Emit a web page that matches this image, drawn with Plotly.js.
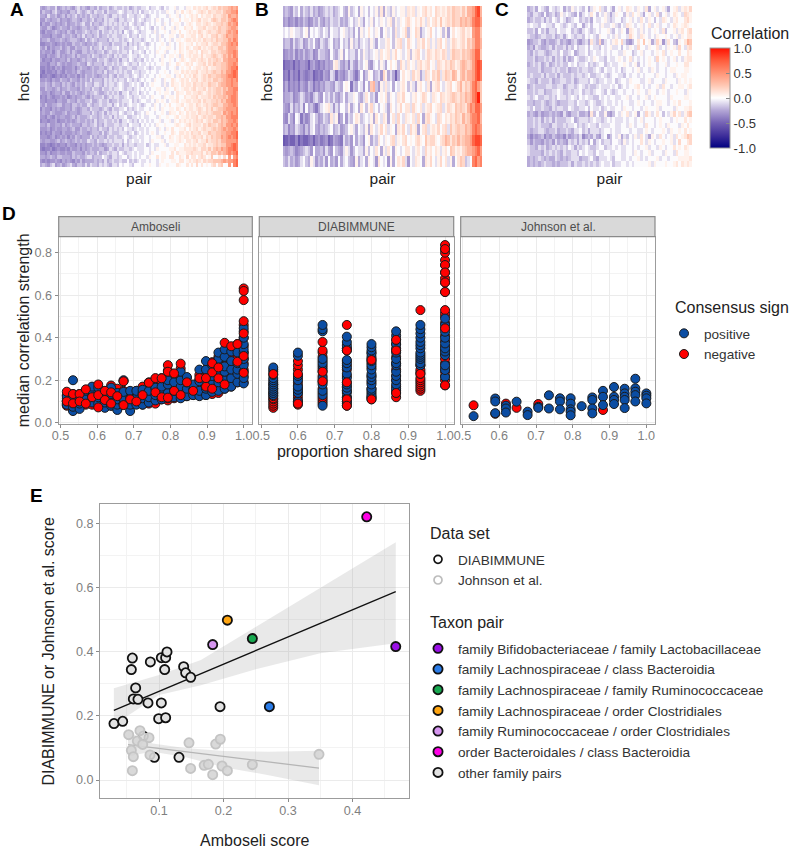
<!DOCTYPE html>
<html><head><meta charset="utf-8">
<script src="https://cdn.plot.ly/plotly-3.0.1.min.js"></script>
<style>html,body{margin:0;padding:0;background:#fff}</style></head>
<body><div id="chart" style="width:789px;height:849px"></div>
<script>
// Correlation levels, one letter per cell; heatLevels gives the value of each letter
const heatKey = "abcdefghijklmnopqrstu";
const heatLevels = [-1,-.8,-.55,-.5,-.42,-.36,-.3,-.24,-.17,-.09,-.01,.06,.12,.18,.25,.34,.45,.57,.7,.82,.95];
const heatA = [
"hghihhjghi hihgijhihg iihjhiijhi jiijijhiji ijjkijjkji kjkkljkkjl lkmlmlmnlm nmonoopqpq",
"gihhgijhgh hgiihjihij ihjiijhjii ijkjijjiji kijjkjkjkj jlkkjlkmkl mlklmnmlnm mnnmoppqqr",
"hhgjhhighi gihijhihih jiihiijihj jijiikjjij jkjijkkjkk kjlkkljklk lmlmkmlmml nmmnonqppq",
"ggihghhigh hghiihgiih ijhiihjijj ihjjijjkij kjijjkjlkj kkjlkkmkll kmlmnlmmln onmoonpqrq",
"fhggihghgh ighhihijhh jhiihijiji jijijikjij jijkjkjkkj lkjkllkjkl mlkmmlmnml mnnonoqpqr",
"hggihfghih hgihhghiih iihijjihij iijjiijkji jkjkjikjkl jkkljlkkml lmklmmnlmm nmonnopqqp",
"gfhgghihgh gihgihhiji hiijhjiiji jijhkjijkj ijjkkjljkk lkjllkmkkl mlmlnmlmnm mnonnpqpqr",
"hgggfhhggi hhihgihjhi ihijhiijij jiijjkijji kjjkjkkjlj kkllkjlmkl lmmkmnlmln nomnoqppqq",
"ghhigghhih ghiiihghjh ijihiiihji jjijijkijj jijkkjkjlk jkljkllklm mlmlmlnmmn monnooqprq",
"ffgghgfghg hggihhihgh hihijiiihj iiijjhjiji jkjijkjkkl kjlkjkmlkl lmkmlmmnlm nnmoopqrqr",
"hgifhghhig higgihhiih jhiijhjiij jkijiijjki jjkjkkjklk kllkjkmlkm lkmmnlmlmn mmoonpqqqp",
"ghgghfhigg higihggiih iihiijhiji ijijjikijj kjikjkjlkk ljkklkmlkl mmlmknmmln nmnoopqqrq",
"ggfhgghigh ghhigihhhi hjiihiijih jijiijkjji jkjjkkjkkl jkllkljmkl mlmmlnlmmn onmnpoqprq",
"hfggfhgghh gighhghihi ihhjiijihi ijhjjikjij jikjkjkkjl kklkjklmlk lmmlmnmlnm nonmppqqqr",
"gggfhhgihg hgghhihhgj ihiiihjiij ijijkjijji kjjkjkjkkl kjlkkmlklm lmklmmnlnm onnoopqqrq",
"ffgfgfhghf ggghfhihhg hihhiihijh iijiijjiij jjkjijkjjk kjkkljklkl mklmmlmnlm mnnoopqrrs",
"fegffgfhgf hgghgihghh hihiihjhii jijijiikjj ijjkjkkjkk lkjkllkmlm lmmnlmmnmn onnpoqqrsr",
"effgfefgfg fhgghfhgih hihghiihji hjiijjijkj ijkjkkjklk kllkjlmkml mlnmlmnmon nooppqrrsr",
"gghgfhggih hgihhgihih jhiiihjiji jijjikjiji jkjkkjlkkj lkkmlklmlm kmmnlmnmnm oonopqqrqr",
"hhihgihhgi hihgihihji ihjjihjijj ijkjiijkjk jikjklkkkj ljkmllkmlm mlnmmnmmon nmoppqqrqq",
"ggihhghigh hihhhgihii hjiihjiiji jjkjijjijk jkjkjkkllk jlkkmlklmm lmnlmmnlnm noonpoqqrr",
"hgghfghhgi ggihihghih iijihhijij ijhjjkijjk ijkjkkjklk llkjkmllkm mlmmnmlmnm noonpqqqrq",
"fgfhgfgghg hfghghhihg ihiiijhiji jjiijkjijj kjjkjlkkkj lkllkmkkml lmmnlmmmnm onoopoqrrq",
"ggfgggfhhg gihhgihhii jhhijiijhi ijijjjkiji jkkjjkjlkl kjkllmkllm mlmmnlnmmn nonpoqqrrq",
"hgigghhiig hhgiihihhj ihiijiijjh jkijijkjjk jijkkjlkjk lkmkkllmkl mmlnmlmnmn oonnppqqrq",
"fhggfhghgg hhgihghiih jiiihijihj iijjkijijk jjkkjklkjl kkllkmlkml mmlmnmlnmo mnoopqqqqr",
"ghggihgggh ighhhghiii hjihijhjij jikjijjkij jkjlkkjkkl kjmllkmlkm lmmlnmmnmn ooonqpqrqr",
"ggfhgfhghh gghigihhhi jiihijiijh jijjkiijjk jkjjkkkjlk klkklmkllm lmmnlmnmnn moopoqqrrr",
"fggfgghfgg hghghihhih ihjhiijiij ijhjjkjiji kjkjkjkklj kkljlkmlml mlmnmnlmnm oonpopqqrq",
"hhgigghhgi ghihhhgiih iijhihjiii jjijjikjjj ikjkjkjlkk lkkklmlklm nlmmmlnmon nmopoqqrqr",
"ggghfghggh hghiggihhi hiihjiihji jijikjjijk jjkjkkkjlk jlkmkkllmk mlmnlmnmmn onopqpqqrq",
"fgfgfhggfh ggghghihhg hiiihjhiji iijjjijkij kjkjklkjkk lkkmlkmmlm lnmmnlmmon nooppqqrrs",
"gggfghfghg hfhgihghhh jhihiihjii jiijkjijjk jjkkjkkllj kkmlklmlmm lmnmmnlnmo nooqpqrqrs",
"hghhgghigh ihghihihhj iihjiijiji jjjikijkjj kjkkjlkkkl jkllklmlkm mlmnlmmomn nonppqqqqr",
"ffgfefgfgg fhggfhghgh hihihghiij iijhjijjij jjkijkjjkk ljkkllkkml mlmlmmnlmm nonooqqrsr",
"feffgefgff gfhgghfhgh ihhhiighji hjiijjijkj jjkkjkjlkk kkllmkllmm mmnmlnnmom opoqpqrrsr",
"ggfhfgghgg hggihhhgih iihjhiijij jikjijjkjk jjkkjlkkkl lkkmkmlllm mnmmmnlnmo onpopqrqrs",
"hhghihgiih hhgihihhij jhiiikjihj jijkkijkjk jkkjlkkmkl lkmmkkmlkn kmmkmnmklo kkmknkqkqr",
"gfgfgghgfh ghgfhgighh hhihihjhij iijiikijij kjjkjkkjkl kkkllkmmkl mlmnmlnmnn ooopqpqqrs",
"hihgijghig hijhgiihjh jiihjijihj jikjkkjikk kjkklkkjlk klkkkmlkkm kmknkmklkm nknokkqkrs"
];
const heatB = [
"hihgjikhji hjhighijij hijkihlijk hljkikjlim hljiljkllj mlmjlkmnlm knmlmlnmon nmomppqstp",
"ghfghfhgih fgihjhgihj iijhihjkij ljhkjlikjl kjlmiljlkm nlkmlnljmk mnlolmnmon npopoprssq",
"jkjlkjjikl hkjkjikjhk jjikljijhk hljkmkjlkh kljkimjkln ilknmhjkln kjklilhkmk lmnlmlqrro",
"hiigjhijgh jikhgjihjk hihkijhlij hjkjiljhkj jlmkilmnjk nlkjmlnkmj ljmnkmjlnm lmnlonprrp",
"fghgifhgig hifgjiihgk ihjlhkijjh kiljijkljm klmjlnkljk milmnkjlnm lnmlnmjmon nmonopqsso",
"deefdfeggf dghfegfhgh lmjhgifjhg jiklhgjkil jhkmklinlj mkljmnlmnk ljnmlnmonl moponoqsts",
"efdgefdgfe fgdefehgfj iehgfhjige hkgilkhijg nlhjhdhkmk ljnlmhjnmk nmojmonmpo lopnppqstr",
"fhegfgehgf ihegfhgiih gjihklkeih kjgkhopigl jmjkhkjlmk iljhlmkjmh lmnkjlmnkl npmonprsqo",
"ghhifghjig hfijhgkijh jhgikhjjlk ihjmkijgkl kmilkjmlnk kjlmklnmkj mlknmlmnon monpoprsuo",
"hgfjgihjfk higehjklmj gjhkkilhjk hmkilnjkik ljhmkjlnkm mjnlkmjlmn klmnjlnmlo nonmprqssq",
"gfjhfkjehf gjkighjihm jlfhkgjikm lijkjlhmkj mlhkmjnkjm lkmjnkhmnl kjnmkmlnmo nmpnoqrrsp",
"hifhgjihfi gjkhgihijk hijghikljh kjilhmkjln kmjlkhmlnk jnlmhkmnjl mlnkmnjomn onnpoprsrq",
"cdeddfcedd efdfgefgde hgfejhigkh jigklhjimk jlkmnjlkmn klkmnlkomn nlkmnpomon pnoppqstts",
"hghihfghij igkhhigjhg kihgjljgik jjhlikjmkh ljmkhlkjkm mkjlmkjnlm kmljlmkonl mlnoppqrsq",
"ihjhighjki hljgihjgkh igkhjkihgl hjkhlkjgmk jkglhkmlnj gkjmlkhmln kjlnkmjlhk monijkrsqr"
];
const heatC = [
"hijhkjihkj ijkhjiljkj ikhjlkmjik jhkljkmlkj lkjmhkljkl jhklmjlmln",
"ihjjihkhij hiljkjihkh jkjmkikjlj hjlkkiljmk ljhkljkmik ljkmlkjnml",
"hijiijhjik jikjhijkki jijhkjjklj ijkkijkljk jmkjlkikjm lkjlmkkmnl",
"jkjjikkjji kkjijkjikk hjkikkjljj kljikjmlkj kljkmjkljk kjkmlklmlk",
"iijhkijhjj ikjjkkijih jkjijkjkkl jikjlkhmlk jljkjklkjm ikkljlmkmn",
"jiihijjiij hijhjkjijj ikjkjilkkj kjljkkjnlk jmlkjkjlkk lkjkljlkmm",
"ghiijhgihh ijhihgijhg ijhmjinhjk jlmknjhgik mkoklhjnlg jmkihlkmpo",
"higjihhijh jiijhjikij jkikjjikjk ljjkikjlkj nkkjlkkmjk jlkljnkjmn",
"ihjijjihij jikiijkhij jkijkjjkjk jkkjjlkkij kljkkjklkm jklkkmkkml",
"iijhiijijh jijhjhikji ijkjlkjjik jjklkjkmjk jkjklkjnkl kjkljkjlmm",
"hijijhijhi jijiikjkij jkijijkkij kjjkklkjkl ikjklkkjkk ljkklkkmmk",
"iiiijhiiij ijiijhiiji jjiijkjikj jkjkijkkjk ljkkjlkjkk jkllkkkllk",
"ijiiijhjii jhjiiijijj ijkiijjkji jkkjjikjkk jkjkkkjlkk jkkjlkllkk",
"jiihjiiijh iijjiijhij jjikjijjkj jkijkkjlkk kjjkljkkkj lkkkjlklkl",
"hijiiiijji ijjhijjijk jijiijkjjj kjkijkjkkl mkjkjkkljm kkjkkllklm",
"iijijjhiij jkjiijijjk ijjijkkjik jijkkjkkjk lkkjlkkjkl kjkklkkjlk",
"jijkiijjij ikjjijkjik jkjjiikjkj kkjjkkljkk jkkljklkkk kjlkkkkllk",
"iihiijihij ihiiijjikj jijkjiijkj jkjkjkkjjk lkjkkjkllk kjklkmkkkl",
"jikiijiihj ijjiikjiij jkikjjkijk jjkkjlkkjk kjklkkkljk kkkjlkkllm",
"hihgighhih ihgjhgiijh higmikiilh gikjlkmjkl hkjnljkmki kjlnkmjlno",
"iijijhjijh jiiijjkhij jjijkjjijk jkjjjkjkkj kljkkkjklk kkjklkkmkl",
"iijijiiihj jiijijjkij ijkjjikjjj kkjjkkjlkj kkjmkkjklk jlkkkjlkmk",
"ihiijjihii jhiijihjjk ijhjjjijkk jkjjkkkjkk jjklkjkkkl kjlkklkmkl",
"hfhghifhgi hghfighihj fhihjhgjkg ikjlhjikjl jmkjhlkjmk jkljmklmon",
"igihhgihig jhihgjijhj ijhkhjkijj ikkjiljkjk kmkjlkjkkl kkljknkkmn",
"jiihjijhij ijijikjhji jkjiijkkij jkjkjjkkjk jkkljkkjlk jkkmklkmlk",
"jiiiihjiji jihjiijjik jkjjikjjkk jjkkjjkkjl kjkkljkkkj lkkjmkkllk",
"hihijihihh jihihijjjh iijkihjjjk jikkjjkjkk ljkjkkkljk kjkkkllllm",
"hihihijiih ihiiijhjii jijijijkjj kijjkkjkjk kkkkljlkkk lkklmkmlml"
];
// Panel D: column x positions (share of taxa pairs with the same sign) and y per column
const ambX = [0.517,0.534,0.552,0.569,0.586,0.603,0.621,0.638,0.655,0.672,0.690,0.707,0.724,0.741,0.759,0.776,0.793,0.810,0.828,0.845,0.862,0.879,0.897,0.914,0.931,0.948,0.966,0.983,1.0];
const ambNegBack = [[.08,.09,.10,.115,.13],[.07,.085,.1,.12,.135],[.075,.09,.105,.12,.135],[.085,.1,.115,.13,.15],[.085,.1,.12,.14,.165],[.08,.095,.115,.135,.17],[.075,.09,.11,.13,.15],[.08,.1,.12,.14,.175],[.07,.09,.11,.13,.16],[.085,.1,.12,.15,.195],[.075,.09,.11,.13],[.09,.11,.13,.15],[.085,.105,.125,.15,.17],[.09,.11,.135,.16,.19],[.09,.115,.14,.17,.205],[.11,.13,.16,.19,.21],[.105,.13,.16,.2,.245],[.115,.14,.17,.2,.225],[.12,.145,.18,.215,.255],[.125,.15,.175,.21],[.13,.15,.17],[.13,.16,.2,.225],[.13,.16,.19,.22,.25],[.135,.17,.21,.25,.285],[.14,.17,.2,.24,.28,.31],[.16,.19,.23,.27,.31],[.17,.2,.24,.28,.32],[.19,.22,.26,.3,.35,.37],[.19,.22,.25,.28,.3,.33,.36,.4,.46]];
const ambPos = [[.085,.105,.125],[.055,.075,.1,.125,.2],[.065,.09,.115],[.1,.125,.15],[.095,.125,.15,.17],[.09,.12,.14,.165],[.07,.095,.12],[.08,.11,.135,.165],[.06,.085,.11,.14],[.09,.115,.145,.2],[.055,.085,.115,.15],[.085,.115,.15],[.085,.115,.14,.155],[.095,.12,.15],[.105,.13,.16,.165],[.11,.135,.17],[.115,.14,.18,.2],[.12,.15,.19],[.115,.145,.17,.2,.24],[.125,.16,.19,.215],[.13,.155,.18],[.125,.15,.195,.25],[.13,.16,.2,.25,.29],[.145,.18,.22,.27],[.15,.19,.23,.27,.3,.33],[.16,.2,.24,.265,.31,.345],[.17,.21,.25,.29,.335],[.19,.23,.25,.28,.33],[.185,.21,.24,.27,.3,.33,.345,.37,.4,.43,.445]];
const ambNegFront = [[.146,.1],[.091,.135],[.135,.1],[.157,.09],[.12],[.18,.072,.13],[.107,.15],[.143,.09],[.125],[.083,.195],[.11],[.1],[.13],[.188],[.21,.143],[.209,.12],[.271,.118,.24],[.232,.15],[.278,.13],[.19],[.15],[.21],[.17,.21],[.237,.16,.28],[.209,.26],[.376,.18],[.36],[.287,.37],[.632,.62,.577,.478,.42,.314,.235]];
const diaX = [0.533,0.6,0.667,0.733,0.8,0.867,0.933,1.0];
const diaNegBack = [[.07,.08,.09,.10,.11,.115,.125,.14,.16,.18],[.085,.095,.1,.115,.13,.145,.16,.175,.19,.21,.225,.25,.27,.29],[.09,.1,.11,.12,.14,.16,.19,.2,.22,.24,.26,.29,.31,.33,.34],[.08,.09,.1,.12,.15,.17,.19,.22,.25,.27,.29,.34,.35],[.11,.12,.14,.16,.19,.22,.26,.28,.30,.33],[.12,.14,.17,.2,.22,.25,.28,.31,.34,.37],[.15,.16,.17,.18,.19,.2,.21,.23,.24,.25,.27,.29],[.176,.2,.22,.24,.26,.28,.3,.32,.34,.36,.385,.41,.444,.47,.5,.515,.53,.615,.66,.679,.707,.742,.765,.8,.817,.836]];
const diaPos = [[.13,.14,.15,.16,.17,.18,.19,.2,.21,.225,.24,.25,.26],[.1,.14,.155,.17,.2,.22,.315,.33],[.08,.13,.15,.18,.21,.25,.27,.28,.30,.43,.44,.46],[.1,.12,.14,.15,.165,.18,.21,.23,.26,.28,.295,.35,.365,.38,.405],[.12,.13,.15,.16,.18,.2,.215,.23,.25,.27,.29,.31,.325,.34,.355,.37],[.15,.16,.18,.2,.22,.24,.27,.28,.3,.33,.35,.37,.39,.41,.43],[.27,.28,.3,.31,.32,.33,.35,.365,.38,.4,.42,.44,.46],[.216,.248,.27,.318,.335,.35,.373,.4,.428,.46,.49]];
const diaNegFront = [[.229],[.09,.23],[.38,.24,.195],[.46,.34,.19,.11,.08],[.11,.295],[.39,.34,.14],[.53,.23],[.817,.742,.707,.66,.615,.444,.176]];
const johPosX = [0.53,0.589,0.589,0.589,0.618,0.618,0.618,0.647,0.677,0.677,0.706,0.706,0.735,0.735,0.765,0.765,0.765,0.794,0.794,0.794,0.794,0.794,0.824,0.853,0.853,0.853,0.853,0.882,0.882,0.882,0.912,0.912,0.912,0.912,0.941,0.941,0.941,0.941,0.941,0.97,0.97,0.97,0.97,0.97,1.0,1.0,1.0,1.0];
const johPosY = [0.031,0.114,0.10,0.045,0.08,0.067,0.048,0.099,0.052,0.036,0.075,0.07,0.129,0.067,0.115,0.10,0.063,0.115,0.09,0.063,0.052,0.035,0.078,0.119,0.107,0.067,0.044,0.15,0.122,0.083,0.168,0.122,0.107,0.088,0.16,0.138,0.122,0.107,0.069,0.207,0.162,0.146,0.13,0.10,0.138,0.127,0.115,0.091];
const johNegX = [0.53,0.589,0.618,0.647,0.706,0.882];
const johNegY = [0.082,0.042,0.09,0.07,0.088,0.06];
// Panel E
const diaScoreX = [0.0302,0.0437,0.0587,0.0571,0.0866,0.1036,0.1103,0.1124,0.1088,0.1382,0.1413,0.1491,0.0638,0.0602,0.0674,0.0829,0.1036,0.0995,0.1103,0.1946,0.0928,0.131,0.0757];
const diaScoreY = [0.176,0.183,0.380,0.344,0.368,0.381,0.381,0.399,0.344,0.353,0.334,0.320,0.287,0.2525,0.2515,0.240,0.240,0.191,0.194,0.2286,0.0707,0.0707,0.137];
const johScoreX = [0.053,0.0705,0.0664,0.0845,0.0747,0.0571,0.0602,0.0587,0.086,0.1465,0.1879,0.195,0.149,0.170,0.1765,0.1832,0.1977,0.206,0.2447,0.348];
const johScoreY = [0.1413,0.1538,0.1216,0.132,0.111,0.0925,0.0727,0.029,0.078,0.116,0.112,0.127,0.036,0.0457,0.0488,0.0166,0.0436,0.029,0.0478,0.08];
const taxonNames = ["family Bifidobacteriaceae / family Lactobacillaceae","family Lachnospiraceae / class Bacteroidia","family Lachnospiraceae / family Ruminococcaceae","family Lachnospiraceae / order Clostridiales","family Ruminococcaceae / order Clostridiales","order Bacteroidales / class Bacteroidia"];
const taxonX = [0.467,0.2711,0.2447,0.206,0.1832,0.422];
const taxonY = [0.4156,0.2286,0.4406,0.498,0.4219,0.82];
const taxonColors = ["#9a10e6","#2a7ce8","#18a850","#ffa510","#d595ef","#ff00e6"];
const fitDiaX = [0.03,0.467];
const fitDiaY = [0.217,0.587];
const ciDiaX = [0.03,0.10,0.165,0.25,0.35,0.467];
const ciDiaHigh = [0.286,0.327,0.374,0.478,0.60,0.741];
const ciDiaLow = [0.171,0.265,0.295,0.345,0.395,0.426];
const fitJohX = [0.052,0.348];
const fitJohY = [0.11,0.037];
const ciJohX = [0.052,0.09,0.14,0.2,0.27,0.348];
const ciJohHigh = [0.15,0.114,0.10,0.09,0.088,0.091];
const ciJohLow = [0.075,0.088,0.072,0.04,0.015,-0.016];
const cbTicks = [-1,-0.5,0,0.5,1];
const cbLabels = ["-1.0","-0.5","0.0","0.5","1.0"];

// ---- helpers
const W=789,H=849;
const px=x=>x/W, py=y=>1-y/H;
const dx=(a,b)=>[px(a),px(b)], dy=(a,b)=>[py(b),py(a)];
const decode=rows=>rows.map(r=>r.replace(/ /g,'').split('').map(c=>heatLevels[heatKey.indexOf(c)]));
const flatX=(xs,cols)=>xs.flatMap((x,i)=>cols[i].map(()=>x));
const FONT='"Liberation Sans", Arial, sans-serif';
const scale=[[0,'#000080'],[.125,'#3f2f9b'],[.25,'#7562b5'],[.375,'#b3a6d6'],[.5,'#ffffff'],[.625,'#ffc8b4'],[.75,'#ff9476'],[.875,'#ff5c3c'],[1,'#ff1000']];
const BLUE='#0b4da3',RED='#ff0000';
const pt=(x,y,color,xa,ya,extra)=>Object.assign({type:'scatter',mode:'markers',x,y,xaxis:xa,yaxis:ya,showlegend:false,
  marker:{size:9,color,line:{color:'#1a1a1a',width:1}}},extra||{});
const hm=(rows,xa,ya,extra)=>Object.assign({type:'heatmap',z:decode(rows),xaxis:xa,yaxis:ya,colorscale:scale,zmin:-1,zmax:1,showscale:false,zsmooth:false,hoverinfo:'skip'},extra||{});

const traces=[
 hm(heatA,'x','y',{showscale:true,colorbar:{x:px(710),xanchor:'left',xpad:0,y:py(98),yanchor:'middle',ypad:0,len:100,lenmode:'pixels',thickness:20,thicknessmode:'pixels',
   outlinecolor:'#9a9a9a',outlinewidth:1,tickmode:'array',tickvals:cbTicks,ticktext:cbLabels,ticks:'inside',ticklen:4,tickcolor:'#888',tickfont:{size:13,color:'#333',family:FONT}}}),
 hm(heatB,'x2','y2'),
 hm(heatC,'x3','y3'),
 pt(flatX(ambX,ambNegBack),ambNegBack.flat(),RED,'x4','y4'),
 pt(flatX(ambX,ambPos),ambPos.flat(),BLUE,'x4','y4'),
 pt(flatX(ambX,ambNegFront),ambNegFront.flat(),RED,'x4','y4'),
 pt(flatX(diaX,diaNegBack),diaNegBack.flat(),RED,'x5','y5'),
 pt(flatX(diaX,diaPos),diaPos.flat(),BLUE,'x5','y5'),
 pt(flatX(diaX,diaNegFront),diaNegFront.flat(),RED,'x5','y5'),
 pt(johNegX,johNegY,RED,'x6','y6'),
 pt(johPosX,johPosY,BLUE,'x6','y6'),
 // consensus legend
 pt([null],[null],BLUE,'x4','y4',{name:'positive',showlegend:true,legend:'legend'}),
 pt([null],[null],RED,'x4','y4',{name:'negative',showlegend:true,legend:'legend'}),
 // E ribbons + fits
 {type:'scatter',mode:'lines',x:ciDiaX.concat(ciDiaX.slice().reverse()),y:ciDiaHigh.concat(ciDiaLow.slice().reverse()),xaxis:'x7',yaxis:'y7',fill:'toself',fillcolor:'rgba(153,153,153,0.22)',line:{width:0},showlegend:false,hoverinfo:'skip'},
 {type:'scatter',mode:'lines',x:ciJohX.concat(ciJohX.slice().reverse()),y:ciJohHigh.concat(ciJohLow.slice().reverse()),xaxis:'x7',yaxis:'y7',fill:'toself',fillcolor:'rgba(153,153,153,0.22)',line:{width:0},showlegend:false,hoverinfo:'skip'},
 {type:'scatter',mode:'lines',x:fitDiaX,y:fitDiaY,xaxis:'x7',yaxis:'y7',line:{color:'#111',width:1.3},showlegend:false},
 {type:'scatter',mode:'lines',x:fitJohX,y:fitJohY,xaxis:'x7',yaxis:'y7',line:{color:'#b5b5b5',width:1.3},showlegend:false},
 // data set legend
 {type:'scatter',mode:'markers',x:[null],y:[null],xaxis:'x7',yaxis:'y7',name:'DIABIMMUNE',legend:'legend2',marker:{size:8,color:'#fff',line:{color:'#111',width:1.7}}},
 {type:'scatter',mode:'markers',x:[null],y:[null],xaxis:'x7',yaxis:'y7',name:'Johnson et al.',legend:'legend2',marker:{size:8,color:'#fff',line:{color:'#bdbdbd',width:1.7}}},
];
taxonNames.forEach((n,i)=>traces.push({type:'scatter',mode:'markers',x:[taxonX[i]],y:[taxonY[i]],xaxis:'x7',yaxis:'y7',name:n,legend:'legend3',
  marker:{size:9.2,color:taxonColors[i],line:{color:'#111',width:1.8}}}));
traces.push({type:'scatter',mode:'markers',x:diaScoreX,y:diaScoreY,xaxis:'x7',yaxis:'y7',name:'other family pairs',legend:'legend3',marker:{size:9.2,color:'#e2e2e2',line:{color:'#111',width:1.8}}});
traces.push({type:'scatter',mode:'markers',x:johScoreX,y:johScoreY,xaxis:'x7',yaxis:'y7',showlegend:false,marker:{size:9.2,color:'rgba(214,214,214,0.92)',line:{color:'#c4c4c4',width:1.8}}});

const hidden=(dom,anchor,extra)=>Object.assign({domain:dom,anchor,showgrid:false,zeroline:false,showticklabels:false,ticks:'',showline:false},extra||{});
const AT=(t,s,so)=>({text:t,standoff:so,font:{size:s||15.5,color:'#222',family:FONT}});
const grid={showgrid:true,gridcolor:'#ebebeb',gridwidth:1,zeroline:false,showline:true,mirror:true,linecolor:'#9c9c9c',linewidth:1.3,ticks:'outside',ticklen:3,tickcolor:'#8a8a8a',tickwidth:1,tickfont:{size:12.6,color:'#7f7f7f',family:FONT}};
const mn=d=>({dtick:d,showgrid:true,gridcolor:'#f3f3f3',gridwidth:.7,ticks:''});
const xD=(dom,anchor,extra)=>Object.assign({},grid,{domain:dom,anchor,range:[.495,1.0235],tick0:0.5,dtick:.1,tickformat:'.1f',ticklabelstandoff:-3,minor:mn(.05)},extra||{});
const yD=(dom,anchor,extra)=>Object.assign({},grid,{domain:dom,anchor,range:[-.006,.8753],tick0:0,dtick:.2,tickformat:'.1f',minor:mn(.1)},extra||{});
const leg=(x,y)=>({x:px(x),y:py(y),xanchor:'left',yanchor:'top',bgcolor:'rgba(0,0,0,0)',borderwidth:0,itemsizing:'trace',itemwidth:30,font:{size:13.6,color:'#333',family:FONT},tracegroupgap:0});
const strip=(x0,x1)=>({type:'rect',xref:'paper',yref:'paper',x0:px(x0),x1:px(x1),y0:py(236.7),y1:py(216.7),fillcolor:'#d9d9d9',line:{color:'#8a8a8a',width:1.2},layer:'above'});
const ann=(t,x,y,o)=>Object.assign({text:t,xref:'paper',yref:'paper',x:px(x),y:py(y),showarrow:false,xanchor:'left',yanchor:'middle',font:{family:FONT,size:16,color:'#222'}},o||{});
const tag=(t,x,y)=>ann(t,x,y,{font:{family:FONT,size:19,color:'#000',weight:700}});
const rev={autorange:'reversed'};

const layout={width:W,height:H,margin:{l:0,r:0,t:0,b:0},paper_bgcolor:'#fff',plot_bgcolor:'#fff',font:{family:FONT},
 xaxis:hidden(dx(40,238),'y',{title:AT('pair',15.5,6)}),
 yaxis:hidden(dy(6,167),'x',Object.assign({title:AT('host',15.5,5)},rev)),
 xaxis2:hidden(dx(283,482),'y2',{title:AT('pair',15.5,6)}),
 yaxis2:hidden(dy(6,167),'x2',Object.assign({title:AT('host',15.5,5)},rev)),
 xaxis3:hidden(dx(527,692),'y3',{title:AT('pair',15.5,6)}),
 yaxis3:hidden(dy(6,167),'x3',Object.assign({title:AT('host',15.5,5)},rev)),
 xaxis4:xD(dx(58.7,252.3),'y4'),
 yaxis4:yD(dy(236.7,424),'x4',{title:AT('median correlation strength',16,0)}),
 xaxis5:xD(dx(259.3,453.7),'y5',{title:AT('proportion shared sign',16,2)}),
 yaxis5:yD(dy(236.7,424),'x5',{showticklabels:false,ticks:''}),
 xaxis6:xD(dx(460.7,655),'y6'),
 yaxis6:yD(dy(236.7,424),'x6',{showticklabels:false,ticks:''}),
 xaxis7:Object.assign({},grid,{domain:dx(100.3,409.3),anchor:'y7',range:[.009,.488],tick0:0,dtick:.1,tickformat:'.1f',ticklabelstandoff:-3,minor:mn(.05),title:AT('Amboseli score',16,20)}),
 yaxis7:Object.assign({},grid,{domain:dy(504.3,798.3),anchor:'x7',range:[-.057,.859],tick0:0,dtick:.2,tickformat:'.1f',minor:mn(.1),title:AT('DIABIMMUNE or Johnson et al. score',16,17)}),
 legend:leg(664,318),legend2:leg(418,544),legend3:leg(418,633),
 shapes:[strip(58.7,252.3),strip(259.3,453.7),strip(460.7,655)],
 annotations:[
  tag('A',8,10),tag('B',253,10),tag('C',493,10),tag('D',0,213),tag('E',28,495),
  ann('Amboseli',155.5,226.7,{xanchor:'center',font:{family:FONT,size:12,color:'#4d4d4d'}}),
  ann('DIABIMMUNE',356.5,226.7,{xanchor:'center',font:{family:FONT,size:12,color:'#4d4d4d'}}),
  ann('Johnson et al.',558,226.7,{xanchor:'center',font:{family:FONT,size:12,color:'#4d4d4d'}}),
  ann('Correlation',708.5,33),ann('Consensus sign',672.5,307),ann('Data set',427.5,533),ann('Taxon pair',427.5,622)
 ]};
Plotly.newPlot('chart',traces,layout,{displayModeBar:false,responsive:false});
</script></body></html>
